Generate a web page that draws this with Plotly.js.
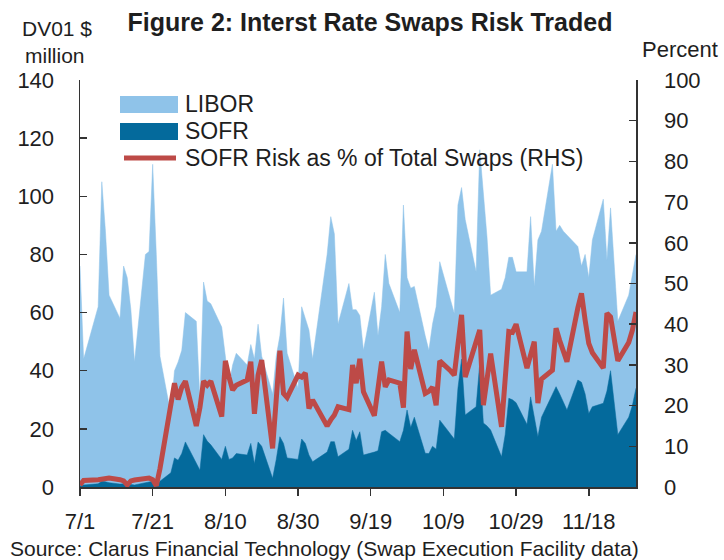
<!DOCTYPE html>
<html>
<head>
<meta charset="utf-8">
<script src="https://cdn.plot.ly/plotly-3.0.1.min.js"></script>
<style>
  html, body { margin: 0; padding: 0; background: #ffffff; }
  #chart { width: 724px; height: 560px; }
</style>
</head>
<body>
<div id="chart"></div>
<script>
// Business days, 2021
const dates = [
  "2021-07-01","2021-07-02","2021-07-06","2021-07-07","2021-07-08","2021-07-09",
  "2021-07-12","2021-07-13","2021-07-14","2021-07-15","2021-07-16",
  "2021-07-19","2021-07-20","2021-07-21","2021-07-22","2021-07-23",
  "2021-07-26","2021-07-27","2021-07-28","2021-07-29","2021-07-30",
  "2021-08-02","2021-08-03","2021-08-04","2021-08-05","2021-08-06",
  "2021-08-09","2021-08-10","2021-08-11","2021-08-12","2021-08-13",
  "2021-08-16","2021-08-17","2021-08-18","2021-08-19","2021-08-20",
  "2021-08-23","2021-08-24","2021-08-25","2021-08-26","2021-08-27",
  "2021-08-30","2021-08-31","2021-09-01","2021-09-02","2021-09-03",
  "2021-09-07","2021-09-08","2021-09-09","2021-09-10",
  "2021-09-13","2021-09-14","2021-09-15","2021-09-16","2021-09-17",
  "2021-09-20","2021-09-21","2021-09-22","2021-09-23","2021-09-24",
  "2021-09-27","2021-09-28","2021-09-29","2021-09-30","2021-10-01",
  "2021-10-04","2021-10-05","2021-10-06","2021-10-07","2021-10-08",
  "2021-10-11","2021-10-12","2021-10-13","2021-10-14","2021-10-15",
  "2021-10-18","2021-10-19","2021-10-20","2021-10-21","2021-10-22",
  "2021-10-25","2021-10-26","2021-10-27","2021-10-28","2021-10-29",
  "2021-11-01","2021-11-02","2021-11-03","2021-11-04","2021-11-05",
  "2021-11-08","2021-11-09","2021-11-10","2021-11-11","2021-11-12",
  "2021-11-15","2021-11-16","2021-11-17","2021-11-18","2021-11-19",
  "2021-11-22","2021-11-23","2021-11-24","2021-11-26",
  "2021-11-29","2021-11-30","2021-12-01"
];

// Top of the stacked area (LIBOR + SOFR), DV01 $ million
const totalRisk = [
  76, 44, 62, 105, 88, 66,
  58, 76, 72, 61, 43,
  80, 81, 111, 80, 45,
  25, 40, 43, 47, 60,
  57, 30, 70.5, 64, 63,
  55, 45, 35, 42, 46,
  42, 49, 44, 56, 45,
  32, 45, 52, 65, 46,
  34, 62, 58, 54, 44,
  80, 93, 87, 56,
  70, 61, 61, 59, 47,
  67, 52, 62, 80, 70,
  60, 97, 72, 68.4, 69,
  52, 47, 56, 62, 77.5,
  64, 59.7, 97, 103, 92,
  74, 116, 100, 86, 66,
  68, 72, 79, 79, 74,
  74, 93, 69, 85, 88,
  111, 88, 90, 88, 86.7,
  82.7, 76, 80, 72, 85,
  99, 78, 96, 57,
  66, 73, 80
];

// SOFR risk, DV01 $ million
const sofrRisk = [
  0.4, 0.7, 1.1, 2.0, 1.8, 1.5,
  1.0, 1.1, 0.4, 0.9, 0.7,
  1.6, 1.8, 2.0, 0.3, 2.0,
  4.9, 10, 9.2, 11.5, 15.5,
  8.6, 5.8, 18, 15.8, 14.5,
  9.5, 14, 9.5, 10, 11.5,
  11, 15, 8, 15.5, 14,
  3, 9.5, 17.3, 15, 10,
  9.5, 16.5, 15, 11, 8.7,
  12, 15.6, 15.6, 10.4,
  13, 19.5, 16, 19, 11,
  12, 12.5, 19, 19.5, 18.5,
  15.6, 19.5, 26.5, 20.5, 24,
  11.6, 11.5, 14, 13, 23,
  18, 16.5, 34, 44, 24.8,
  27.6, 42.5, 22, 21, 19.6,
  10.4, 18, 30.5, 30, 29,
  21.5, 31, 24.6, 17.3, 24,
  32, 34.5, 32, 29, 26.5,
  36.8, 36, 32, 25.3, 27.6,
  28.8, 33, 40, 18,
  24, 28, 34
];

// SOFR risk as % of total swaps (RHS)
const sofrPct = [
  0.5, 1.6, 1.8, 1.9, 2.0, 2.2,
  1.8, 1.5, 0.5, 1.5, 1.7,
  2.0, 2.2, 1.8, 0.3, 4.5,
  19.5, 25.5, 21.5, 24.5, 26,
  15, 19.5, 26, 25, 26,
  17.3, 31, 27, 23.8, 25,
  26.3, 30.8, 18, 27.5, 31.2,
  9.5, 21, 33.5, 23, 22,
  27.5, 27, 28, 19.3, 21.4,
  15, 16.5, 17.7, 19.7,
  19, 30, 25.5, 31.5, 23.4,
  17.5, 24, 30.8, 24.6, 26.3,
  25.5, 19.5, 38.2, 29, 33.7,
  23, 23.5, 24.5, 20.1, 31,
  28.5, 27.5, 35, 42.3, 27,
  36, 38.6, 20.1, 26, 32.8,
  14.8, 25, 38.2, 38, 40,
  29.2, 33, 35.7, 20.6, 26.5,
  28.7, 39, 36, 33, 30.8,
  44, 47.6, 41, 35.3, 33,
  29.2, 42.7, 41.8, 31,
  35.5, 38.5, 43
];

const legendLabels = ["LIBOR", "SOFR", "SOFR Risk as % of Total Swaps (RHS)"];

const LIGHT = "#8fc3e9";
const DARK = "#046a9c";
const RED = "#bd4a47";
const AX = "#333333";
const TXT = "#1e1e1e";
const FONT = "Liberation Sans, Arial, sans-serif";

const traces = [
  {
    x: dates, y: totalRisk, type: "scatter", mode: "lines", name: legendLabels[0],
    fill: "tozeroy", fillcolor: LIGHT, line: { color: LIGHT, width: 0.5 },
    hoverinfo: "skip", showlegend: false
  },
  {
    x: dates, y: sofrRisk, type: "scatter", mode: "lines", name: legendLabels[1],
    fill: "tozeroy", fillcolor: DARK, line: { color: DARK, width: 0.5 },
    hoverinfo: "skip", showlegend: false
  },
  {
    x: dates, y: sofrPct, type: "scatter", mode: "lines", name: legendLabels[2],
    yaxis: "y2", line: { color: RED, width: 5 },
    hoverinfo: "skip", showlegend: false
  }
];

// plot area in pixels: x 80..636, y 80..487
const L = 80, R = 636, T = 80, B = 487;
const px = v => (v - L) / (R - L);
const py = v => (B - v) / (B - T);

const layout = {
  width: 724, height: 560,
  margin: { l: L, r: 724 - R, t: T, b: 560 - B, pad: 0 },
  paper_bgcolor: "#ffffff", plot_bgcolor: "#ffffff",
  font: { family: FONT, color: TXT, size: 22 },
  title: {
    text: "<b>Figure 2: Interst Rate Swaps Risk Traded</b>",
    font: { family: FONT, size: 25, color: TXT },
    xref: "container", yref: "container",
    x: 370 / 724, xanchor: "center",
    y: 1 - 22 / 560, yanchor: "middle"
  },
  xaxis: {
    type: "date",
    range: ["2021-07-01", "2021-12-01"],
    tick0: "2021-07-01", dtick: 20 * 86400000,
    tickformat: "%-m/%-d",
    ticks: "outside", ticklen: 7, tickwidth: 1.5, tickcolor: AX,
    showline: true, linecolor: AX, linewidth: 1.5,
    showgrid: false, zeroline: false,
    tickfont: { size: 22, color: TXT, family: FONT },
    ticklabelstandoff: 7,
    fixedrange: true
  },
  yaxis: {
    range: [0, 140], dtick: 20, tick0: 0,
    ticks: "inside", ticklen: 7, tickwidth: 1.5, tickcolor: AX,
    showline: true, linecolor: AX, linewidth: 1.5,
    showgrid: false, zeroline: false,
    tickfont: { size: 22, color: TXT, family: FONT },
    ticklabelstandoff: 20,
    fixedrange: true
  },
  yaxis2: {
    overlaying: "y", side: "right",
    range: [0, 100], dtick: 10, tick0: 0,
    ticks: "inside", ticklen: 7, tickwidth: 1.5, tickcolor: AX,
    showline: true, linecolor: AX, linewidth: 1.5,
    showgrid: false, zeroline: false,
    tickfont: { size: 22, color: TXT, family: FONT },
    ticklabelstandoff: 22,
    fixedrange: true
  },
  shapes: [
    { type: "rect", xref: "paper", yref: "paper",
      x0: px(120), x1: px(178), y0: py(113), y1: py(96),
      fillcolor: LIGHT, line: { width: 0 } },
    { type: "rect", xref: "paper", yref: "paper",
      x0: px(120), x1: px(178), y0: py(140), y1: py(123),
      fillcolor: DARK, line: { width: 0 } },
    { type: "line", xref: "paper", yref: "paper",
      x0: px(124), x1: px(176), y0: py(158), y1: py(158),
      line: { color: RED, width: 5 } }
  ],
  annotations: [
    { text: legendLabels[0], xref: "paper", yref: "paper", x: px(183), y: py(104),
      xanchor: "left", yanchor: "middle", showarrow: false, font: { size: 23, color: TXT } },
    { text: legendLabels[1], xref: "paper", yref: "paper", x: px(183), y: py(131),
      xanchor: "left", yanchor: "middle", showarrow: false, font: { size: 23, color: TXT } },
    { text: legendLabels[2], xref: "paper", yref: "paper", x: px(183), y: py(158),
      xanchor: "left", yanchor: "middle", showarrow: false, font: { size: 23, color: TXT } },
    { text: "DV01 $", xref: "paper", yref: "paper", x: px(57), y: py(29),
      xanchor: "center", yanchor: "middle", showarrow: false, font: { size: 21, color: TXT } },
    { text: "million", xref: "paper", yref: "paper", x: px(55), y: py(55),
      xanchor: "center", yanchor: "middle", showarrow: false, font: { size: 21, color: TXT } },
    { text: "Percent", xref: "paper", yref: "paper", x: px(680), y: py(50),
      xanchor: "center", yanchor: "middle", showarrow: false, font: { size: 22, color: TXT } },
    { text: "Source: Clarus Financial Technology (Swap Execution Facility data)",
      xref: "paper", yref: "paper", x: px(8), y: py(548),
      xanchor: "left", yanchor: "middle", showarrow: false, font: { size: 21, color: TXT } }
  ]
};

Plotly.newPlot("chart", traces, layout, { displayModeBar: false, staticPlot: true });
</script>
</body>
</html>
